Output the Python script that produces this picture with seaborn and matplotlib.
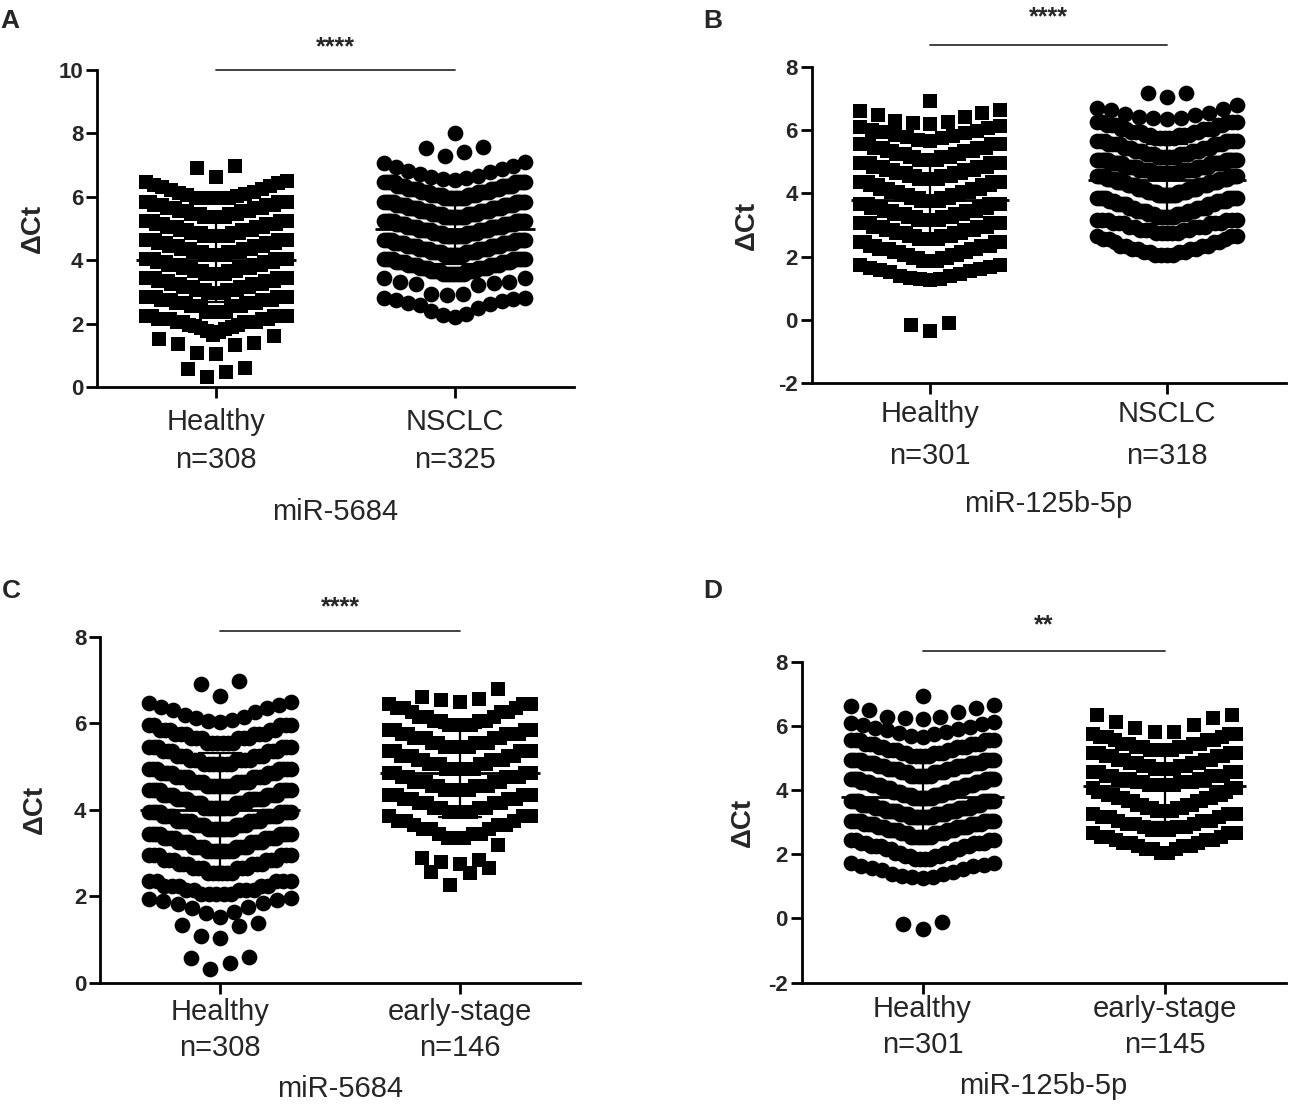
import numpy as np
import matplotlib
matplotlib.use("Agg")
import matplotlib.pyplot as plt
import seaborn as sns

# ---- data: value levels and how many samples sit at each level ----
# healthy controls, miR-5684 (panels A and C)
healthy_5684_levels = [0.32, 0.47, 0.57, 0.6,
                       1.04, 1.08, 1.31, 1.35, 1.38,
                       1.52, 1.62, 1.65, 1.73, 1.75, 1.83, 1.85, 1.89, 1.92, 1.94, 1.96,
                       2.05, 2.15, 2.25, 2.35,
                       2.55, 2.65, 2.75, 2.85, 2.95,
                       3.05, 3.15, 3.25, 3.35, 3.45,
                       3.55, 3.65, 3.75, 3.85, 3.95,
                       4.05, 4.15, 4.25, 4.35, 4.45,
                       4.55, 4.65, 4.75, 4.85, 4.95,
                       5.05, 5.15, 5.25, 5.35, 5.45,
                       5.55, 5.65, 5.75, 5.85, 5.95,
                       6.03, 6.05, 6.08, 6.12, 6.15, 6.2, 6.25, 6.3, 6.35, 6.38, 6.42, 6.46, 6.5,
                       6.62, 6.9, 6.97]
healthy_5684_counts = [1, 1, 1, 1,
                       1, 1, 1, 1, 1,
                       1, 1, 1, 1, 1, 1, 1, 1, 1, 1, 1,
                       5, 5, 5, 5,
                       6, 6, 6, 6, 6,
                       8, 8, 8, 8, 8,
                       8, 8, 9, 9, 8,
                       9, 8, 9, 8, 8,
                       8, 8, 8, 7, 7,
                       7, 7, 6, 6, 6,
                       6, 6, 6, 5, 5,
                       1, 1, 1, 1, 1, 1, 1, 1, 1, 1, 1, 1, 1,
                       1, 1, 1]

# NSCLC, miR-5684 (panel A)
nsclc_5684_levels = [2.22, 2.27, 2.3, 2.4, 2.5, 2.58, 2.62, 2.66, 2.7, 2.73, 2.76, 2.8, 2.82,
                     2.91, 2.92, 2.93, 3.22, 3.25, 3.27, 3.3, 3.32, 3.43, 3.44,
                     3.55, 3.65, 3.75, 3.85, 3.95, 4.05,
                     4.15, 4.25, 4.35, 4.45, 4.55, 4.65,
                     4.75, 4.85, 4.95, 5.05, 5.15, 5.25,
                     5.35, 5.45, 5.55, 5.65, 5.75, 5.85,
                     5.95, 6.05, 6.15, 6.25, 6.35, 6.45,
                     6.53, 6.56, 6.6, 6.63, 6.67, 6.72, 6.77, 6.82, 6.88, 6.93, 6.98, 7.06, 7.1,
                     7.29, 7.4, 7.54, 7.58,
                     8.01]
nsclc_5684_counts = [1] * 13 + [1] * 10 + \
                    [8, 8, 8, 8, 8, 9,
                     9, 10, 10, 10, 10, 9,
                     10, 10, 11, 11, 10, 10,
                     10, 10, 10, 10, 10, 10,
                     9, 9, 9, 9, 9, 10] + [1] * 13 + [1] * 4 + [1]

# early-stage NSCLC, miR-5684 (panel C)
early_5684_levels = [2.26, 2.53, 2.57, 2.65,
                     2.76, 2.8, 2.84, 2.88, 3.19,
                     3.35, 3.45, 3.55, 3.65, 3.75, 3.85,
                     3.95, 4.05, 4.15, 4.25, 4.35,
                     4.45, 4.55, 4.65, 4.75, 4.85,
                     4.95, 5.05, 5.15, 5.25, 5.35,
                     5.45, 5.55, 5.65, 5.75, 5.85,
                     5.95, 6.05, 6.15, 6.25, 6.35, 6.45,
                     6.5, 6.53, 6.57, 6.61, 6.8]
early_5684_counts = [1, 1, 1, 1,
                     1, 1, 1, 1, 1,
                     3, 3, 3, 3, 3, 3,
                     4, 4, 4, 4, 4,
                     5, 5, 5, 5, 4,
                     6, 5, 5, 5, 5,
                     5, 5, 5, 5, 4,
                     4, 4, 3, 3, 3, 3,
                     1, 1, 1, 1, 1]

# healthy controls, miR-125b-5p (panels B and D)
healthy_125b_levels = [-0.34, -0.16, -0.11,
                       1.25, 1.28, 1.3, 1.33, 1.37, 1.4, 1.45, 1.5, 1.55, 1.58, 1.62, 1.65, 1.68, 1.72, 1.74,
                       1.85, 1.95, 2.05, 2.15, 2.25, 2.35, 2.45,
                       2.55, 2.65, 2.75, 2.85, 2.95, 3.05,
                       3.15, 3.25, 3.35, 3.45, 3.55, 3.65,
                       3.75, 3.85, 3.95, 4.05, 4.15, 4.25, 4.35,
                       4.45, 4.55, 4.65, 4.75, 4.85, 4.95,
                       5.05, 5.15, 5.25, 5.35, 5.45, 5.55,
                       5.66, 5.7, 5.74, 5.78, 5.82, 5.86, 5.9, 5.94, 5.98, 6.02, 6.06, 6.1, 6.13,
                       6.21, 6.24, 6.27, 6.28, 6.42, 6.48, 6.55, 6.61, 6.64,
                       6.93]
healthy_125b_counts = [1, 1, 1] + [1] * 15 + \
                      [4, 4, 4, 4, 5, 5, 4,
                       7, 7, 7, 7, 8, 8,
                       9, 9, 9, 9, 9, 9,
                       8, 8, 8, 8, 8, 8, 8,
                       7, 7, 7, 7, 8, 8,
                       5, 5, 5, 5, 6, 6] + [1] * 13 + [1] * 9 + [1]

# NSCLC, miR-125b-5p (panel B)
nsclc_125b_levels = [2.05, 2.15, 2.25, 2.35, 2.45, 2.55, 2.65,
                     2.75, 2.85, 2.95, 3.05, 3.15,
                     3.25, 3.35, 3.45, 3.55, 3.65, 3.75, 3.85,
                     3.95, 4.05, 4.15, 4.25, 4.35, 4.45, 4.55,
                     4.65, 4.75, 4.85, 4.95, 5.05,
                     5.15, 5.25, 5.35, 5.45, 5.55, 5.65,
                     5.75, 5.85, 5.95, 6.05, 6.15, 6.25,
                     6.34, 6.37, 6.4, 6.42, 6.48, 6.51, 6.55, 6.64, 6.68, 6.7, 6.79,
                     7.06, 7.17, 7.19]
nsclc_125b_counts = [4, 4, 4, 4, 3, 3, 3,
                     5, 5, 5, 6, 6,
                     7, 7, 7, 7, 7, 7, 8,
                     10, 10, 10, 10, 10, 10, 10,
                     13, 13, 13, 13, 12,
                     6, 6, 6, 6, 7, 7,
                     5, 5, 5, 5, 5, 5] + [1] * 11 + [1] * 3

# early-stage NSCLC, miR-125b-5p (panel D)
early_125b_levels = [2.05, 2.15, 2.25, 2.35, 2.45, 2.55, 2.65,
                     2.75, 2.85, 2.95, 3.05, 3.15, 3.25,
                     3.35, 3.45, 3.55, 3.65, 3.75, 3.85, 3.95, 4.05,
                     4.15, 4.25, 4.35, 4.45, 4.55,
                     4.65, 4.75, 4.85, 4.95, 5.05, 5.15,
                     5.25, 5.35, 5.45, 5.55, 5.65, 5.75,
                     5.81, 5.82, 5.92, 6.02, 6.13, 6.23, 6.33, 6.34]
early_125b_counts = [2, 3, 3, 3, 3, 3, 3,
                     3, 3, 3, 3, 3, 3,
                     4, 4, 4, 4, 4, 4, 3, 3,
                     5, 5, 5, 5, 4,
                     4, 4, 4, 4, 4, 4,
                     4, 4, 4, 3, 3, 3] + [1] * 8

# row edges used to stack the dots (Prism-like column scatter)
bins_a_healthy = [-1, 0.9, 1.63, 2.3, 2.9, 3.5, 4.1, 4.7, 5.3, 5.9, 6.55, 7.5]
bins_a_nsclc = [2.0, 2.88, 3.5, 4.1, 4.7, 5.3, 5.9, 6.5, 7.2, 7.8, 8.5]
bins_c_healthy = [-1, 0.9, 1.5, 2.0, 2.45, 3.0, 3.5, 4.0, 4.5, 5.0, 5.5, 5.98, 6.55, 7.5]
bins_c_early = [2.0, 2.7, 3.3, 3.9, 4.4, 4.9, 5.4, 5.9, 6.48, 7.2]
bins_bd_healthy = [-1, 0.5, 1.2, 1.8, 2.5, 3.1, 3.72, 4.4, 5.0, 5.6, 6.17, 6.7, 7.5]
bins_b_nsclc = [1.9, 2.7, 3.2, 3.9, 4.6, 5.1, 5.7, 6.3, 6.95, 7.5]
bins_d_early = [1.9, 2.7, 3.3, 4.1, 4.6, 5.2, 5.78, 6.5]

# marker area per shape (squares look heavier than discs at equal area)
marker_area = {"s": 106, "o": 128}


def column_scatter(levels, counts, edges, step=0.08, width=0.59):
    vals = np.sort(np.repeat(levels, counts))
    rows = np.digitize(vals, edges)
    dx = np.zeros(len(vals))
    for r in np.unique(rows):
        idx = np.where(rows == r)[0]
        n = len(idx)
        gap = step if n < 2 else min(step, width / (n - 1))
        slots = []
        for k in range(n):
            if n % 2:
                j = (k + 1) // 2
                slots.append(-j if k % 2 else j)
            else:
                j = k // 2 + 0.5
                slots.append(-j if k % 2 == 0 else j)
        dx[idx] = np.array(slots) * gap
    return vals, dx


sns.set_theme(style="ticks")
plt.rcParams['font.family'] = ['Liberation Sans', 'DejaVu Sans']
plt.rcParams['axes.unicode_minus'] = False

fig = plt.figure(figsize=(12.89, 11.05), dpi=100)

panels = [
    dict(letter="A", rect=[0.0753, 0.6498, 0.370, 0.2869], ylim=(0, 10), yticks=[0, 2, 4, 6, 8, 10],
         mirna="miR-5684", stars="****", sig_y=10.0, star_off=8,
         groups=[("Healthy", healthy_5684_levels, healthy_5684_counts, bins_a_healthy, "s"),
                 ("NSCLC", nsclc_5684_levels, nsclc_5684_counts, bins_a_nsclc, "o")],
         letter_xy=(0.0, 9), ylab_x=-0.108, xlab_y=-0.35, pad=7, ls=1.45),
    dict(letter="B", rect=[0.6296, 0.6534, 0.3677, 0.2860], ylim=(-2, 8), yticks=[-2, 0, 2, 4, 6, 8],
         mirna="miR-125b-5p", stars="****", sig_y=8.70, star_off=11,
         groups=[("Healthy", healthy_125b_levels, healthy_125b_counts, bins_bd_healthy, "s"),
                 ("NSCLC", nsclc_125b_levels, nsclc_125b_counts, bins_b_nsclc, "o")],
         letter_xy=(703, 9), ylab_x=-0.110, xlab_y=-0.339, pad=4, ls=1.64),
    dict(letter="C", rect=[0.0776, 0.1104, 0.3724, 0.3134], ylim=(0, 8), yticks=[0, 2, 4, 6, 8],
         mirna="miR-5684", stars="****", sig_y=8.13, star_off=8.5,
         groups=[("Healthy", healthy_5684_levels, healthy_5684_counts, bins_c_healthy, "o"),
                 ("early-stage", early_5684_levels, early_5684_counts, bins_c_early, "s")],
         letter_xy=(2, 579), ylab_x=-0.108, xlab_y=-0.266, pad=3, ls=1.33),
    dict(letter="D", rect=[0.6218, 0.1107, 0.3755, 0.2905], ylim=(-2, 8), yticks=[-2, 0, 2, 4, 6, 8],
         mirna="miR-125b-5p", stars="**", sig_y=8.34, star_off=10,
         groups=[("Healthy", healthy_125b_levels, healthy_125b_counts, bins_bd_healthy, "o"),
                 ("early-stage", early_125b_levels, early_125b_counts, bins_d_early, "s")],
         letter_xy=(703, 579), ylab_x=-0.095, xlab_y=-0.278, pad=1, ls=1.37),
]

for p in panels:
    ax = fig.add_axes(p["rect"])
    labels = []
    for i, (name, lev, cnt, edges, mk) in enumerate(p["groups"]):
        y, dx = column_scatter(lev, cnt, edges)
        sns.scatterplot(x=i + dx, y=y, marker=mk, s=marker_area[mk], color="black", linewidth=0,
                        ax=ax, legend=False, zorder=2, clip_on=False)
        mean, sd = y.mean(), y.std(ddof=1)
        ax.hlines(mean, i - 0.335, i + 0.335, color="black", lw=2, zorder=3)
        ax.vlines(i, mean - sd, mean + sd, color="black", lw=1.6, zorder=3)
        ax.hlines([mean - sd, mean + sd], i - 0.09, i + 0.09, color="black", lw=1.6, zorder=3)
        labels.append(f"{name}\nn={int(np.sum(cnt))}")

    ax.set_xlim(-0.5, 1.5)
    ax.set_ylim(*p["ylim"])
    ax.set_xticks([0, 1])
    ax.set_xticklabels(labels, fontsize=21, linespacing=p["ls"])
    ax.set_yticks(p["yticks"])
    ax.set_yticklabels([str(t) for t in p["yticks"]], fontsize=16, fontweight="bold")
    ax.tick_params(axis="both", length=8, width=2, color="black")
    ax.tick_params(axis="x", pad=p["pad"])
    ax.tick_params(axis="y", pad=2)
    sns.despine(ax=ax)
    for s in ("left", "bottom"):
        ax.spines[s].set_linewidth(2)
        ax.spines[s].set_color("black")

    ax.set_ylabel("ΔCt", fontsize=20, fontweight="bold")
    ax.yaxis.set_label_coords(p["ylab_x"], 0.5)
    ax.set_xlabel(p["mirna"], fontsize=21)
    ax.xaxis.set_label_coords(0.5, p["xlab_y"])

    # significance bar
    ax.plot([0, 1], [p["sig_y"], p["sig_y"]], color="#333333", lw=1.3, clip_on=False)
    ax.annotate(p["stars"], xy=(0.5, p["sig_y"]), xytext=(0, p["star_off"]), textcoords="offset points",
                ha="center", va="bottom", fontsize=18, fontweight="bold", annotation_clip=False)

    lx, ly = p["letter_xy"]
    fig.text(lx / 1289, 1 - ly / 1105, p["letter"], fontsize=19, fontweight="bold", va="top", ha="left")

fig.savefig("out.png", dpi=100, facecolor="white")
